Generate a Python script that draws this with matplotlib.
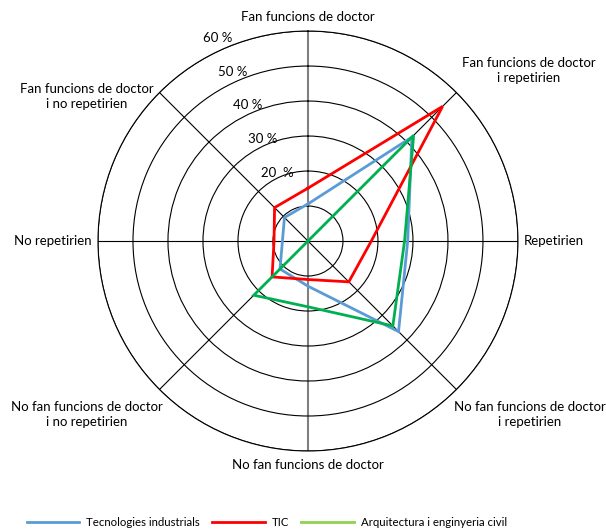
import numpy as np
import matplotlib
matplotlib.use('Agg')
import matplotlib.pyplot as plt
from matplotlib.lines import Line2D

plt.rcParams['font.family'] = ['Lato', 'DejaVu Sans']

# categories, clockwise from the top
categories = ['Fan funcions de doctor',
              'Fan funcions de doctor\ni repetirien',
              'Repetirien',
              'No fan funcions de doctor\ni repetirien',
              'No fan funcions de doctor',
              'No fan funcions de doctor\ni no repetirien',
              'No repetirien',
              'Fan funcions de doctor\ni no repetirien']

tecnologies = [10.6, 42.0, 28.5, 36.6, 12.9, 11.3, 7.3, 9.5]
tic = [15.1, 54.4, 18.1, 16.5, 11.0, 14.5, 9.7, 13.5]
arquitectura = [0, 42.7, 27.6, 34.3, 18.8, 21.9, 0, 0]

series_names = ['Tecnologies industrials', 'TIC', 'Arquitectura i enginyeria civil']
line_colors = ['#5B9BD5', '#FF0000', '#00B050']
legend_colors = ['#5B9BD5', '#FF0000', '#92D050']

rings = [10, 20, 30, 40, 50, 60]
ring_labels = ['', '20  %', '30 %', '40 %', '50 %', '60 %']

fig = plt.figure(figsize=(6.06, 5.30), dpi=100)
ax = fig.add_axes([0.1617, 0.149, 0.693, 0.7925], projection='polar')
ax.set_theta_zero_location('N')
ax.set_theta_direction(-1)

angles = np.arange(len(categories)) * 2 * np.pi / len(categories)

ax.set_ylim(0, 60)
ax.set_rgrids(rings, labels=['']*len(rings))
ax.set_thetagrids(np.degrees(angles), labels=['']*len(angles))
ax.grid(True, color='black', lw=0.8)
for i, gl in enumerate(ax.xaxis.get_gridlines()):
    if i in (0, 4):
        gl.set_color('#808080')
        gl.set_linewidth(1.5)
ax.spines['polar'].set_color('black')
ax.spines['polar'].set_linewidth(0.8)

for vals, c in zip([tecnologies, tic, arquitectura], line_colors):
    v = list(vals) + [vals[0]]
    a = list(angles) + [angles[0]]
    ax.plot(a, v, color=c, lw=2.0, solid_joinstyle='miter', zorder=5)

# radial scale labels
for r, lab in zip(rings, ring_labels):
    if lab:
        ax.text(np.radians(-24), r * 1.06, lab, ha='center', va='center', fontsize=9.5)

# category labels, offsets in pixels from the end of each spoke
offsets = [(0, 8), (72, 22), (6, 0), (73, -25), (0, -8), (-73, -25), (-6, 0), (-73, -4)]
aligns = [('center', 'bottom'), ('center', 'center'), ('left', 'center'), ('center', 'center'),
          ('center', 'top'), ('center', 'center'), ('right', 'center'), ('center', 'center')]
for a, lab, off, (ha, va) in zip(angles, categories, offsets, aligns):
    ax.annotate(lab, xy=(a, 60), xytext=off, textcoords='offset pixels',
                ha=ha, va=va, fontsize=9.5, multialignment='center', linespacing=1.3,
                annotation_clip=False)

handles = [Line2D([], [], color=c, lw=2.0) for c in legend_colors]
fig.legend(handles, series_names, loc='center', bbox_to_anchor=(0.44, 0.014), ncol=3,
           frameon=False, fontsize=8.2, handlelength=4.6, columnspacing=1.1, handletextpad=0.6)

fig.savefig('out.png', dpi=100)
